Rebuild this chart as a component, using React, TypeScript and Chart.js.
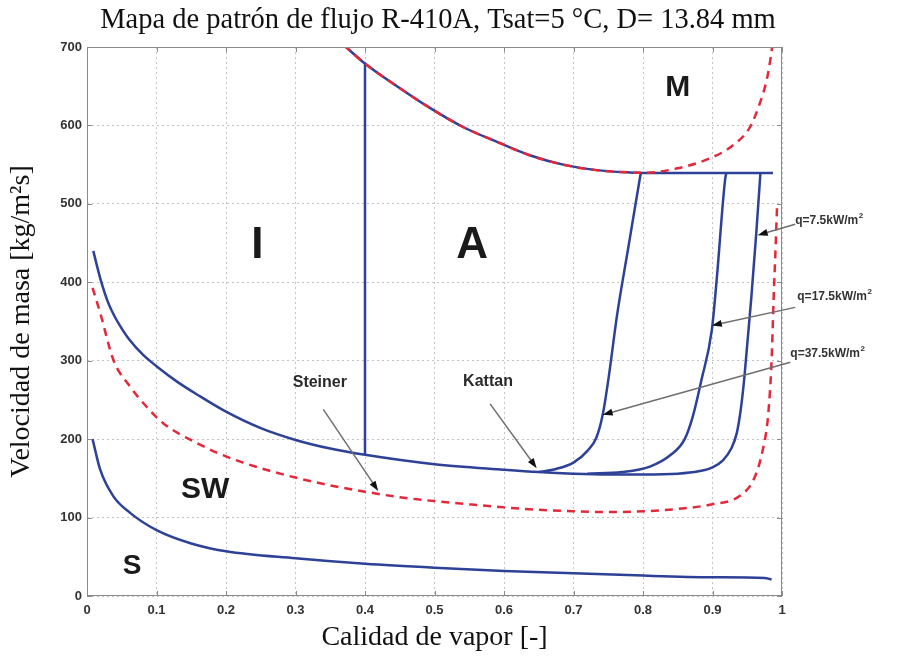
import React, { useEffect, useRef } from 'react';
import { Chart, registerables } from 'chart.js';

Chart.register(...registerables);

// ---- Tick labels ----
const xTickLabels = ['0', '0.1', '0.2', '0.3', '0.4', '0.5', '0.6', '0.7', '0.8', '0.9', '1'];
const yTickLabels = ['0', '100', '200', '300', '400', '500', '600', '700'];

// ---- Curves (x = calidad de vapor, G = velocidad de masa) ----
// S / SW boundary
const stratX = [0.008, 0.019, 0.038, 0.062, 0.1, 0.15, 0.2, 0.3, 0.4, 0.5, 0.6, 0.7, 0.8, 0.9, 0.975, 0.985];
const stratG = [200, 161, 127, 106, 84, 67, 57, 48, 41, 36, 32, 29, 26, 24, 23, 21];

// Kattan boundary, q = 7.5 kW/m2 (full curve)
const kattan75X = [0.009, 0.02, 0.03, 0.04, 0.05, 0.06, 0.08, 0.1, 0.13, 0.16, 0.2, 0.25, 0.3, 0.35, 0.4, 0.5, 0.6, 0.65, 0.7, 0.75, 0.8, 0.85, 0.88, 0.9, 0.915, 0.927, 0.935, 0.941, 0.946, 0.956, 0.963, 0.969];
const kattan75G = [440, 402, 375, 356, 341, 328, 308, 293, 273, 256, 235, 214, 199, 188, 180, 168, 161, 158, 156, 155, 155, 156, 159, 164, 173, 188, 208, 240, 280, 382, 463, 540];

// Kattan branch, q = 37.5 kW/m2
const kattan375X = [0.65, 0.675, 0.7, 0.72, 0.733, 0.742, 0.75, 0.763, 0.779, 0.795, 0.797];
const kattan375G = [158, 162, 170, 185, 202, 231, 275, 360, 445, 530, 540];

// Kattan branch, q = 17.5 kW/m2
const kattan175X = [0.72, 0.77, 0.81, 0.84, 0.86, 0.872, 0.884, 0.899, 0.906, 0.918, 0.92];
const kattan175G = [156, 158, 165, 180, 200, 230, 275, 339, 403, 530, 540];

// Intermittent / Annular boundary
const iaX = [0.4, 0.4];
const iaG = [180, 680];

// Upper boundary (to mist)
const upperX = [0.37, 0.397, 0.446, 0.494, 0.541, 0.59, 0.637, 0.685, 0.733, 0.781, 0.8];
const upperG = [702, 681, 650, 622, 598, 579, 562, 550, 543, 540, 539.5];

// Dryout plateau
const plateauX = [0.8, 0.987];
const plateauG = [539.5, 539.5];

// Steiner: upper dashed boundary
const steinerUpX = [0.37, 0.397, 0.446, 0.494, 0.541, 0.59, 0.637, 0.685, 0.733, 0.781, 0.8, 0.848, 0.896, 0.93, 0.954, 0.968, 0.978, 0.984, 0.986];
const steinerUpG = [702, 681, 650, 622, 598, 579, 562, 550, 543, 540, 539.5, 545, 558, 575, 598, 628, 658, 688, 702];

// Steiner: lower dashed boundary
const steinerLowX = [0.008, 0.019, 0.038, 0.062, 0.086, 0.11, 0.158, 0.2, 0.25, 0.3, 0.35, 0.4, 0.45, 0.5, 0.55, 0.6, 0.65, 0.7, 0.75, 0.8, 0.85, 0.9, 0.94, 0.96, 0.972, 0.98, 0.985, 0.988, 0.991, 0.993];
const steinerLowG = [393, 361, 301, 267, 241, 220, 195, 178, 163, 151, 141, 133, 126, 121, 117, 113, 110, 108, 107, 108, 111, 117, 128, 150, 185, 230, 300, 380, 450, 500];

// ---- Text annotations (data coordinates) ----
const regionNames = ['I', 'A', 'M', 'SW', 'S'];
const regionAt: [number, number, number][] = [
  [0.245, 447, 44],
  [0.554, 447, 44],
  [0.85, 648, 30],
  [0.17, 135, 30],
  [0.065, 38, 28],
];

const noteNames = ['Steiner', 'Kattan'];
const noteAt: [number, number][] = [
  [0.335, 272],
  [0.577, 273],
];
const noteArrows: [number, number, number, number][] = [
  [0.34, 238, 0.419, 134],
  [0.58, 245, 0.647, 163],
];

const qNames = ['q=7.5kW/m', 'q=17.5kW/m', 'q=37.5kW/m'];
const qAt: [number, number][] = [
  [1.019, 479],
  [1.022, 381],
  [1.012, 309],
];
const qArrows: [number, number, number, number][] = [
  [1.019, 474, 0.965, 460],
  [1.019, 368, 0.899, 345],
  [1.012, 298, 0.742, 231],
];

const pts = (xs: number[], ys: number[]) => xs.map((x, i) => ({ x, y: ys[i] }));

const BLUE = '#2D4197';
const RED = '#E4283A';
const SERIF = '"Liberation Serif", "Times New Roman", serif';
const SANS = '"Liberation Sans", Arial, sans-serif';

const overlay = {
  id: 'overlay',
  afterDatasetsDraw(chart: any) {
    const { ctx, chartArea: a, scales } = chart;
    const sx = scales.x;
    const sy = scales.y;
    const px = (v: number) => sx.getPixelForValue(v);
    const py = (v: number) => sy.getPixelForValue(v);
    ctx.save();

    // frame
    ctx.strokeStyle = '#8a8a8a';
    ctx.lineWidth = 1;
    ctx.setLineDash([]);
    ctx.strokeRect(a.left + 0.5, a.top + 0.5, a.right - a.left - 1, a.bottom - a.top - 1);

    // inner tick marks
    ctx.beginPath();
    for (let i = 0; i < xTickLabels.length; i++) {
      const X = Math.round(px(Number(xTickLabels[i]))) + 0.5;
      ctx.moveTo(X, a.bottom);
      ctx.lineTo(X, a.bottom - 5);
      ctx.moveTo(X, a.top);
      ctx.lineTo(X, a.top + 5);
    }
    for (let i = 0; i < yTickLabels.length; i++) {
      const Y = Math.round(py(Number(yTickLabels[i]))) + 0.5;
      ctx.moveTo(a.left, Y);
      ctx.lineTo(a.left + 5, Y);
      ctx.moveTo(a.right, Y);
      ctx.lineTo(a.right - 5, Y);
    }
    ctx.stroke();

    const arrow = (x1: number, y1: number, x2: number, y2: number) => {
      const X1 = px(x1), Y1 = py(y1), X2 = px(x2), Y2 = py(y2);
      const ang = Math.atan2(Y2 - Y1, X2 - X1);
      const L = 10, W = 3.5;
      ctx.strokeStyle = '#6f6f6f';
      ctx.lineWidth = 1.5;
      ctx.beginPath();
      ctx.moveTo(X1, Y1);
      ctx.lineTo(X2 - Math.cos(ang) * L * 0.6, Y2 - Math.sin(ang) * L * 0.6);
      ctx.stroke();
      ctx.fillStyle = '#111';
      ctx.beginPath();
      ctx.moveTo(X2, Y2);
      ctx.lineTo(X2 - Math.cos(ang) * L - Math.sin(ang) * W, Y2 - Math.sin(ang) * L + Math.cos(ang) * W);
      ctx.lineTo(X2 - Math.cos(ang) * L + Math.sin(ang) * W, Y2 - Math.sin(ang) * L - Math.cos(ang) * W);
      ctx.closePath();
      ctx.fill();
    };

    noteArrows.forEach((r) => arrow(r[0], r[1], r[2], r[3]));
    qArrows.forEach((r) => arrow(r[0], r[1], r[2], r[3]));

    // region letters
    ctx.fillStyle = '#1a1a1a';
    ctx.textAlign = 'center';
    ctx.textBaseline = 'middle';
    regionNames.forEach((t, i) => {
      const [x, y, s] = regionAt[i];
      ctx.font = `bold ${s}px ${SANS}`;
      ctx.fillText(t, px(x), py(y));
    });

    // notes
    ctx.fillStyle = '#2a2a2a';
    ctx.font = `bold 16px ${SANS}`;
    noteNames.forEach((t, i) => {
      const [x, y] = noteAt[i];
      ctx.fillText(t, px(x), py(y));
    });

    // q labels with superscript
    ctx.textAlign = 'left';
    ctx.fillStyle = '#333';
    qNames.forEach((t, i) => {
      const [x, y] = qAt[i];
      ctx.font = `bold 12px ${SANS}`;
      const X = px(x), Y = py(y);
      ctx.fillText(t, X, Y);
      const w = ctx.measureText(t).width;
      ctx.font = `bold 8px ${SANS}`;
      ctx.fillText('2', X + w + 0.5, Y - 5);
    });

    ctx.restore();
  },
};

export default function App() {
  const ref = useRef<HTMLCanvasElement | null>(null);

  useEffect(() => {
    document.body.style.margin = '0';
    const canvas = ref.current;
    if (!canvas) return;

    const blueLine = (label: string, data: any[], extra: any = {}) => ({
      label,
      data,
      borderColor: BLUE,
      backgroundColor: BLUE,
      borderWidth: 2.5,
      pointRadius: 0,
      fill: false,
      cubicInterpolationMode: 'monotone',
      order: 2,
      ...extra,
    });
    const redLine = (label: string, data: any[]) => ({
      label,
      data,
      borderColor: RED,
      backgroundColor: RED,
      borderWidth: 2.5,
      borderDash: [8, 6],
      pointRadius: 0,
      fill: false,
      cubicInterpolationMode: 'monotone',
      order: 1,
    });

    const tickFont = { family: SANS, size: 13, weight: 'bold' as const };

    const chart = new Chart(canvas, {
      type: 'line',
      data: {
        datasets: [
          redLine('Steiner superior', pts(steinerUpX, steinerUpG)),
          redLine('Steiner inferior', pts(steinerLowX, steinerLowG)),
          blueLine('S', pts(stratX, stratG)),
          blueLine('Kattan q=7.5', pts(kattan75X, kattan75G)),
          blueLine('Kattan q=17.5', pts(kattan175X, kattan175G)),
          blueLine('Kattan q=37.5', pts(kattan375X, kattan375G)),
          blueLine('I/A', pts(iaX, iaG), { cubicInterpolationMode: 'default', tension: 0 }),
          blueLine('Superior', pts(upperX, upperG)),
          blueLine('Dryout', pts(plateauX, plateauG), { cubicInterpolationMode: 'default', tension: 0 }),
        ],
      },
      options: {
        animation: false,
        responsive: false,
        layout: { padding: { left: 0, right: 25, top: 0, bottom: 0 } },
        plugins: {
          legend: { display: false },
          tooltip: { enabled: false },
          title: {
            display: true,
            text: 'Mapa de patrón de flujo R-410A, Tsat=5 °C, D= 13.84 mm',
            color: '#111',
            font: { family: SERIF, size: 28.5, weight: 'normal' },
            padding: { top: 3, bottom: 9.8 },
          },
        },
        scales: {
          x: {
            type: 'linear',
            min: 0,
            max: 1,
            ticks: {
              stepSize: 0.1,
              autoSkip: false,
              maxRotation: 0,
              padding: 7,
              color: '#333',
              font: tickFont,
              callback: (_v: any, i: number) => xTickLabels[i],
            },
            grid: { color: '#c4c4c4', lineWidth: 1, drawTicks: false },
            border: { display: false, dash: [2, 3] },
            title: {
              display: true,
              text: 'Calidad de vapor [-]',
              color: '#111',
              font: { family: SERIF, size: 28, weight: 'normal' },
              padding: { top: 0, bottom: 5 },
            },
            afterFit: (s: any) => {
              s.height = 63;
            },
          },
          y: {
            type: 'linear',
            min: 0,
            max: 700,
            ticks: {
              stepSize: 100,
              padding: 5,
              color: '#333',
              font: tickFont,
              callback: (_v: any, i: number) => yTickLabels[i],
            },
            grid: { color: '#c4c4c4', lineWidth: 1, drawTicks: false },
            border: { display: false, dash: [2, 3] },
            title: {
              display: true,
              text: 'Velocidad de masa [kg/m²s]',
              color: '#111',
              font: { family: SERIF, size: 28, weight: 'normal' },
              padding: { top: 5, bottom: 0 },
            },
            afterFit: (s: any) => {
              s.width = 87;
            },
          },
          yRight: {
            type: 'linear',
            position: 'right',
            display: true,
            ticks: { display: false },
            grid: { display: false, drawTicks: false },
            border: { display: false },
            afterFit: (s: any) => {
              s.width = 94;
            },
          },
        },
      } as any,
      plugins: [overlay],
    });

    return () => chart.destroy();
  }, []);

  return (
    <div style={{ width: 901, height: 659, background: '#fff' }}>
      <canvas ref={ref} width={901} height={659} style={{ display: 'block', width: 901, height: 659 }} />
    </div>
  );
}
